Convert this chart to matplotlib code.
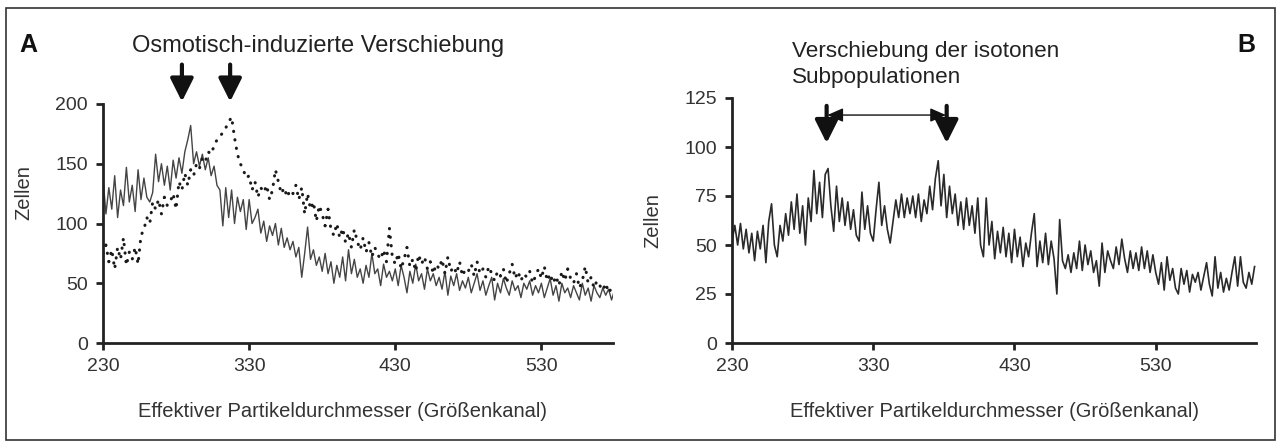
import numpy as np
import matplotlib
matplotlib.use("Agg")
import matplotlib.pyplot as plt
from matplotlib.patches import Rectangle

plt.rcParams['font.family'] = ['Liberation Sans', 'DejaVu Sans']

# Panel A: channels 230..580, every 2nd channel
ch_a = np.arange(230, 582, 2)
solid_a = [
    138, 108, 130, 112, 140, 105, 128, 115, 147, 118,
    132, 110, 145, 120, 138, 122, 118, 126, 158, 135,
    150, 132, 148, 128, 153, 138, 155, 142, 160, 170,
    182, 150, 160, 148, 158, 145, 155, 140, 148, 132,
    128, 98, 130, 105, 128, 100, 122, 110, 120, 95,
    120, 100, 105, 112, 92, 102, 85, 98, 90, 100,
    82, 96, 80, 88, 78, 85, 72, 80, 55, 75,
    97, 70, 78, 65, 72, 60, 75, 58, 68, 50,
    65, 55, 72, 52, 78, 58, 70, 55, 62, 50,
    65, 55, 75, 58, 62, 48, 66, 55, 60, 52,
    62, 48, 65, 55, 42, 60, 50, 66, 52, 58,
    45, 62, 52, 58, 48, 55, 45, 60, 40, 56,
    48, 58, 44, 52, 46, 55, 42, 50, 58, 44,
    52, 40, 48, 55, 36, 50, 42, 54, 46, 40,
    52, 44, 48, 38, 50, 45, 52, 40, 48, 42,
    50, 38, 46, 54, 40, 48, 35, 50, 42, 46,
    38, 48, 42, 36, 50, 40, 46, 35, 48, 42,
    38, 46, 40, 45, 36, 44,
]
dotted_a = [
    75, 82, 68, 78, 62, 80, 70, 88, 65, 76,
    70, 80, 66, 90, 95, 105, 100, 118, 112, 120,
    108, 122, 115, 118, 125, 112, 135, 128, 142, 132,
    145, 140, 150, 146, 155, 152, 160, 158, 165, 170,
    173, 176, 180, 185, 189, 172, 158, 150, 145, 138,
    140, 128, 135, 122, 130, 126, 132, 120, 128, 145,
    135, 125, 130, 122, 128, 125, 132, 120, 130, 108,
    125, 112, 118, 102, 115, 108, 98, 112, 95, 90,
    100, 88, 96, 84, 92, 80, 95, 85, 78, 88,
    76, 84, 72, 80, 74, 70, 78, 68, 96, 72,
    66, 75, 62, 70, 80, 64, 70, 60, 74, 66,
    72, 62, 68, 58, 66, 62, 70, 58, 72, 60,
    64, 58, 68, 56, 62, 60, 66, 56, 68, 58,
    62, 55, 64, 58, 52, 60, 56, 62, 50, 58,
    66, 54, 60, 52, 58, 55, 60, 50, 56, 62,
    54, 64, 52, 58, 50, 56, 48, 60, 52, 62,
    54, 50, 58, 46, 52, 64, 50, 55, 46, 52,
    48, 44, 50, 42, 46, 44,
]

# Panel B: channels 230..600, every 2nd channel
ch_b = np.arange(230, 602, 2)
line_b = [
    52, 60, 50, 61, 48, 58, 46, 56, 42, 57,
    48, 60, 41, 62, 71, 50, 44, 60, 52, 66,
    55, 72, 58, 76, 56, 70, 50, 74, 62, 88,
    66, 82, 64, 86, 89, 70, 57, 80, 62, 74,
    60, 72, 58, 68, 55, 52, 77, 58, 70, 56,
    52, 68, 82, 60, 70, 58, 51, 62, 73, 64,
    76, 64, 74, 66, 75, 64, 76, 62, 73, 66,
    80, 68, 84, 93, 70, 86, 64, 80, 66, 76,
    60, 72, 58, 74, 60, 70, 56, 74, 50, 44,
    74, 50, 62, 43, 57, 46, 59, 44, 56, 41,
    58, 44, 54, 39, 51, 44, 56, 66, 39, 52,
    41, 56, 40, 52, 43, 25, 63, 42, 38, 45,
    36, 46, 38, 52, 37, 50, 40, 47, 36, 42,
    29, 51, 36, 47, 42, 38, 49, 40, 53, 43,
    36, 47, 38, 46, 37, 49, 38, 47, 36, 45,
    36, 30, 41, 27, 44, 32, 38, 28, 25, 38,
    30, 37, 26, 35, 31, 36, 27, 34, 41, 30,
    24, 44, 28, 36, 26, 33, 27, 36, 44, 29,
    44, 31, 28, 36, 30, 39,
]

xticks = [230, 330, 430, 530]
yticks_a = [0, 50, 100, 150, 200]
yticks_b = [0, 25, 50, 75, 100, 125]

W, H = 1280, 441
fig = plt.figure(figsize=(W / 100, H / 100), dpi=100)
fig.patches.append(Rectangle((6 / W, 1 - 440 / H), 1269 / W, 432 / H,
                             transform=fig.transFigure, fill=False,
                             lw=1.2, ec='#333333'))

ax_a = fig.add_axes([103 / W, 1 - 343 / H, 510 / W, 239 / H])
ax_b = fig.add_axes([732 / W, 1 - 343 / H, 524 / W, 245 / H])

ink = '#222222'
for ax in (ax_a, ax_b):
    for s in ('top', 'right'):
        ax.spines[s].set_visible(False)
    for s in ('left', 'bottom'):
        ax.spines[s].set_linewidth(2.0)
        ax.spines[s].set_color(ink)
    ax.tick_params(direction='out', length=5, width=2, color=ink,
                   labelsize=14, labelcolor='#333333', pad=6)
    ax.set_xticks(xticks)
    ax.set_xlabel('Effektiver Partikeldurchmesser (Größenkanal)',
                  fontsize=14.5, color='#333333')
    ax.set_ylabel('Zellen', fontsize=14.5, color='#333333')

ax_a.xaxis.set_label_coords(0.469, -0.247)
ax_a.yaxis.set_label_coords(-0.137, 0.63)
ax_b.xaxis.set_label_coords(0.5, -0.241)
ax_b.yaxis.set_label_coords(-0.132, 0.5)

ax_a.plot(ch_a, solid_a, color='#444444', lw=1.0)
ax_a.plot(ch_a, dotted_a, color='#1a1a1a', lw=2.2, linestyle=(0, (0.1, 2.7)),
          dash_capstyle='round')
ax_a.set_xlim(230, 579)
ax_a.set_ylim(0, 200)
ax_a.set_yticks(yticks_a)

ax_b.plot(ch_b, line_b, color='#2a2a2a', lw=1.2)
ax_b.set_xlim(230, 601)
ax_b.set_ylim(0, 125)
ax_b.set_yticks(yticks_b)

down = dict(arrowstyle='-|>,head_width=0.5,head_length=1.0', lw=3,
            color='#111111', mutation_scale=14, shrinkA=0, shrinkB=0)

# Panel A arrows and title
for x in (284, 317):
    ax_a.annotate('', xy=(x, 202), xytext=(x, 233), annotation_clip=False,
                  arrowprops=down)
fig.text(28 / W, 1 - 45 / H, 'A', fontsize=18, fontweight='bold',
         va='center', ha='center', color='#111111')
fig.text(318 / W, 1 - 46 / H, 'Osmotisch-induzierte Verschiebung',
         fontsize=17, va='center', ha='center', color='#222222')

# Panel B arrows and title
for x in (297, 382):
    ax_b.annotate('', xy=(x, 102), xytext=(x, 121), annotation_clip=False,
                  arrowprops=down)
ax_b.annotate('', xy=(297.5, 116.3), xytext=(381.5, 116.3),
              annotation_clip=False,
              arrowprops=dict(arrowstyle='<|-|>,head_width=0.35,head_length=0.8',
                              lw=1.0, color='#111111', mutation_scale=12,
                              shrinkA=0, shrinkB=0))
fig.text(1246 / W, 1 - 45 / H, 'B', fontsize=18, fontweight='bold',
         va='center', ha='center', color='#111111')
fig.text(792 / W, 1 - 51 / H, 'Verschiebung der isotonen',
         fontsize=16.2, va='center', ha='left', color='#222222')
fig.text(792 / W, 1 - 78 / H, 'Subpopulationen',
         fontsize=16.2, va='center', ha='left', color='#222222')

fig.savefig('out.png', dpi=100)
